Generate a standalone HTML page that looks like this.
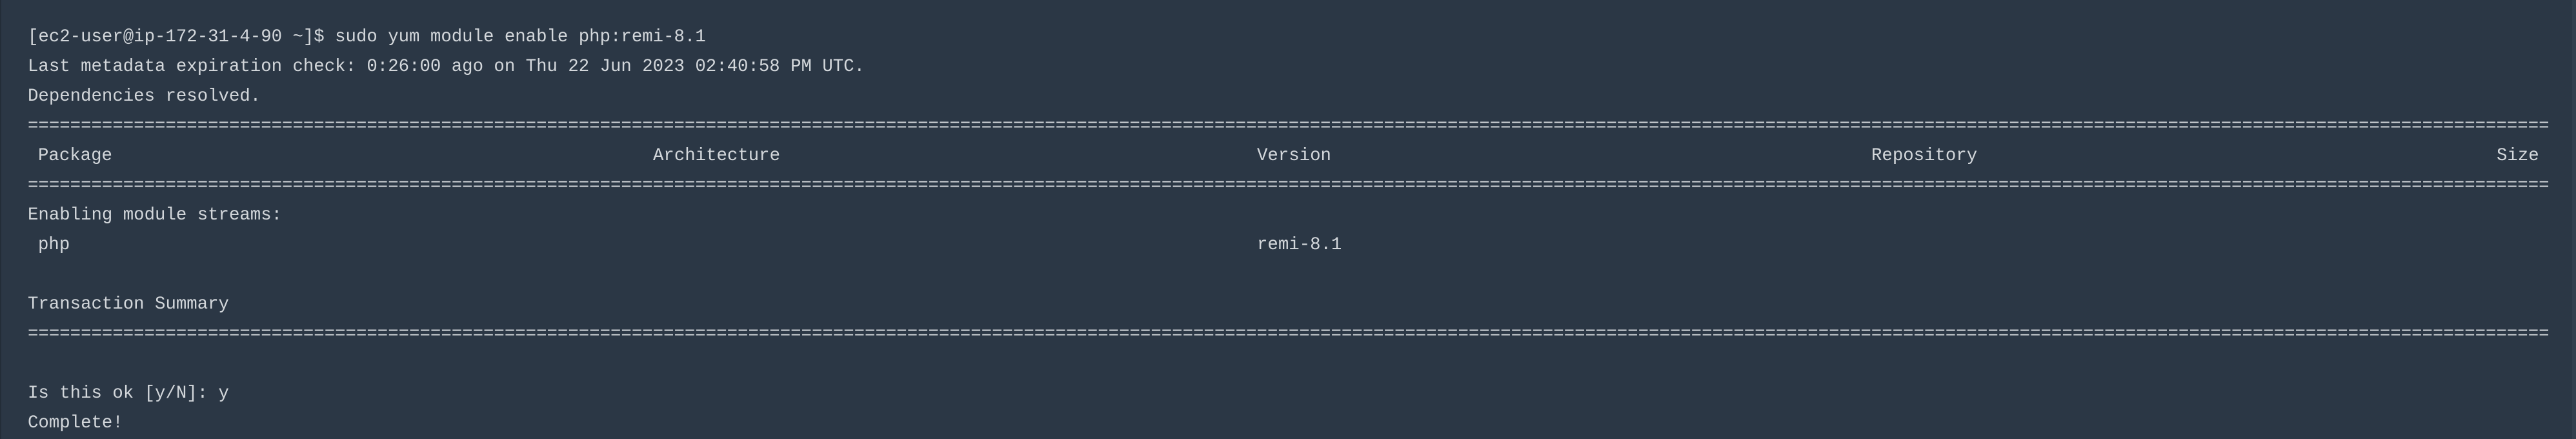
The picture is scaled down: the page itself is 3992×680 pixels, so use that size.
<!DOCTYPE html>
<html><head><meta charset="utf-8"><style>
html,body{margin:0;padding:0;}
body{width:3992px;height:680px;background:#2b3745;position:relative;overflow:hidden;}
.l{position:absolute;left:43px;font-family:"Liberation Mono",monospace;font-size:27.37px;line-height:46px;color:#d3d7db;white-space:pre;}
.c{position:absolute;font-family:"Liberation Mono",monospace;font-size:27.37px;line-height:46px;color:#d3d7db;white-space:pre;}
.sb{position:absolute;right:0;top:0;width:6px;height:680px;background:#333f4d;}
.lb{position:absolute;left:0;top:0;width:2px;height:680px;background:#232d38;}
</style></head><body>
<div class="lb"></div><div class="sb"></div>
<div class="l" style="top:35px">[ec2-user@ip-172-31-4-90 ~]$ sudo yum module enable php:remi-8.1</div>
<div class="l" style="top:81px">Last metadata expiration check: 0:26:00 ago on Thu 22 Jun 2023 02:40:58 PM UTC.</div>
<div class="l" style="top:127px">Dependencies resolved.</div>
<div class="l" style="top:173px" id="e1"></div>
<div class="c" style="top:219px;left:59px">Package</div>
<div class="c" style="top:219px;left:1012px">Architecture</div>
<div class="c" style="top:219px;left:1948px">Version</div>
<div class="c" style="top:219px;left:2900px">Repository</div>
<div class="c" style="top:219px;left:3869px">Size</div>
<div class="l" style="top:265px" id="e2"></div>
<div class="l" style="top:311px">Enabling module streams:</div>
<div class="c" style="top:357px;left:59px">php</div>
<div class="c" style="top:357px;left:1948px">remi-8.1</div>
<div class="l" style="top:449px">Transaction Summary</div>
<div class="l" style="top:495px" id="e3"></div>
<div class="l" style="top:587px">Is this ok [y/N]: y</div>
<div class="l" style="top:633px">Complete!</div>
<script>
var s="=".repeat(238);
["e1","e2","e3"].forEach(function(i){document.getElementById(i).textContent=s;});
</script>
</body></html>
